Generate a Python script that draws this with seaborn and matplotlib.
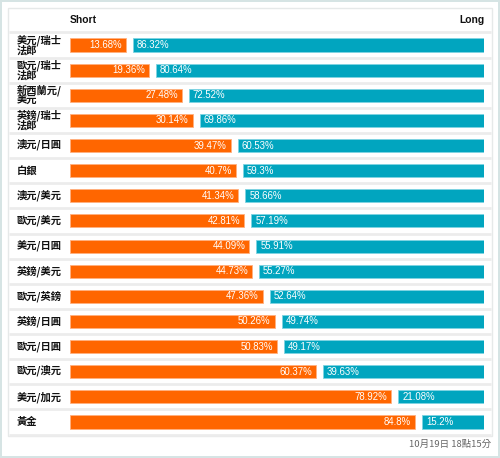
import numpy as np
import matplotlib
matplotlib.use("Agg")
import matplotlib.pyplot as plt
from matplotlib.patches import Rectangle
import seaborn as sns

pairs = ["美元/瑞士\n法郎", "歐元/瑞士\n法郎", "新西蘭元/\n美元", "英鎊/瑞士\n法郎",
         "澳元/日圓", "白銀", "澳元/美元", "歐元/美元", "美元/日圓", "英鎊/美元",
         "歐元/英鎊", "英鎊/日圓", "歐元/日圓", "歐元/澳元", "美元/加元", "黃金"]
short = [13.68, 19.36, 27.48, 30.14, 39.47, 40.7, 41.34, 42.81, 44.09, 44.73,
         47.36, 50.26, 50.83, 60.37, 78.92, 84.8]
long = [86.32, 80.64, 72.52, 69.86, 60.53, 59.3, 58.66, 57.19, 55.91, 55.27,
        52.64, 49.74, 49.17, 39.63, 21.08, 15.2]
timestamp = "10月19日 18點15分"

ORANGE = "#ff6600"
TEAL = "#01a5bf"
GAP = 1.7  # gap between the two bars, in percent units

sns.set_style("white")
plt.rcParams["font.family"] = ["Noto Sans CJK TC", "DejaVu Sans"]

W, H = 500, 458
fig = plt.figure(figsize=(W / 100, H / 100), dpi=100)
fig.patch.set_facecolor("white")
fig.patch.set_edgecolor("#d6e4e4")
fig.patch.set_linewidth(1.5)

# white panel with a light border
fig.patches.append(Rectangle((8 / W, 1 - 436 / H), 484 / W, 428 / H,
                             transform=fig.transFigure, facecolor="white",
                             edgecolor="#e6e9e9", lw=1, zorder=-10))

ax = fig.add_axes([70 / W, 1 - 434.6 / H, 414 / W, (434.6 - 32.4) / H])
ax.set_facecolor("none")
ax.set_zorder(5)

n = len(pairs)
ypos = np.arange(n)
short_arr = np.array(short)
long_arr = np.array(long)

sns.barplot(x=short, y=list(range(n)), orient="h", color=ORANGE, width=0.52,
            saturation=1, edgecolor="#ffb080", linewidth=0.6, ax=ax, native_scale=True)
ax.barh(ypos, long_arr, left=short_arr + GAP, height=0.52, color=TEAL,
        edgecolor="#7fd4e2", linewidth=0.6)

ax.set_xlim(0, 100 + GAP)
ax.set_ylim(n - 0.5, -0.5)
ax.set_xticks([])
ax.set_yticks([])
ax.set_xlabel("")
ax.set_ylabel("")
for s in ax.spines.values():
    s.set_visible(False)

# row separators spanning the whole panel
px = 414 / (100 + GAP)
x0 = -(70 - 9) / px
x1 = 100 + GAP + (491 - 484) / px
ax.hlines(np.arange(n) - 0.5, x0, x1, color="#ececec", lw=2, clip_on=False, zorder=0)
ax.hlines([n - 0.5], x0, x1, color="#ececec", lw=2, clip_on=False, zorder=0)

for i in range(n):
    ax.text(-(70 - 17) / px, i, pairs[i], ha="left", va="center", fontsize=7.4,
            fontweight="bold", linespacing=0.95, color="#111111", clip_on=False)
    ax.text(short[i] - 4 / px, i, f"{short[i]:g}%", ha="right", va="center",
            fontsize=6.9, color="white", family=["Liberation Sans", "DejaVu Sans"])
    ax.text(short[i] + GAP + 4 / px, i, f"{long[i]:g}%", ha="left", va="center",
            fontsize=6.9, color="white", family=["Liberation Sans", "DejaVu Sans"])

fig.text(70 / W, 1 - 20 / H, "Short", ha="left", va="center", fontsize=7.4,
         fontweight="bold", family=["Liberation Sans", "DejaVu Sans"], color="#111111")
fig.text(484 / W, 1 - 20 / H, "Long", ha="right", va="center", fontsize=7.4,
         fontweight="bold", family=["Liberation Sans", "DejaVu Sans"], color="#111111")
fig.text(491 / W, 1 - 444 / H, timestamp, ha="right", va="center", fontsize=6.8,
         color="#666666")

fig.savefig("out.png", dpi=100)
